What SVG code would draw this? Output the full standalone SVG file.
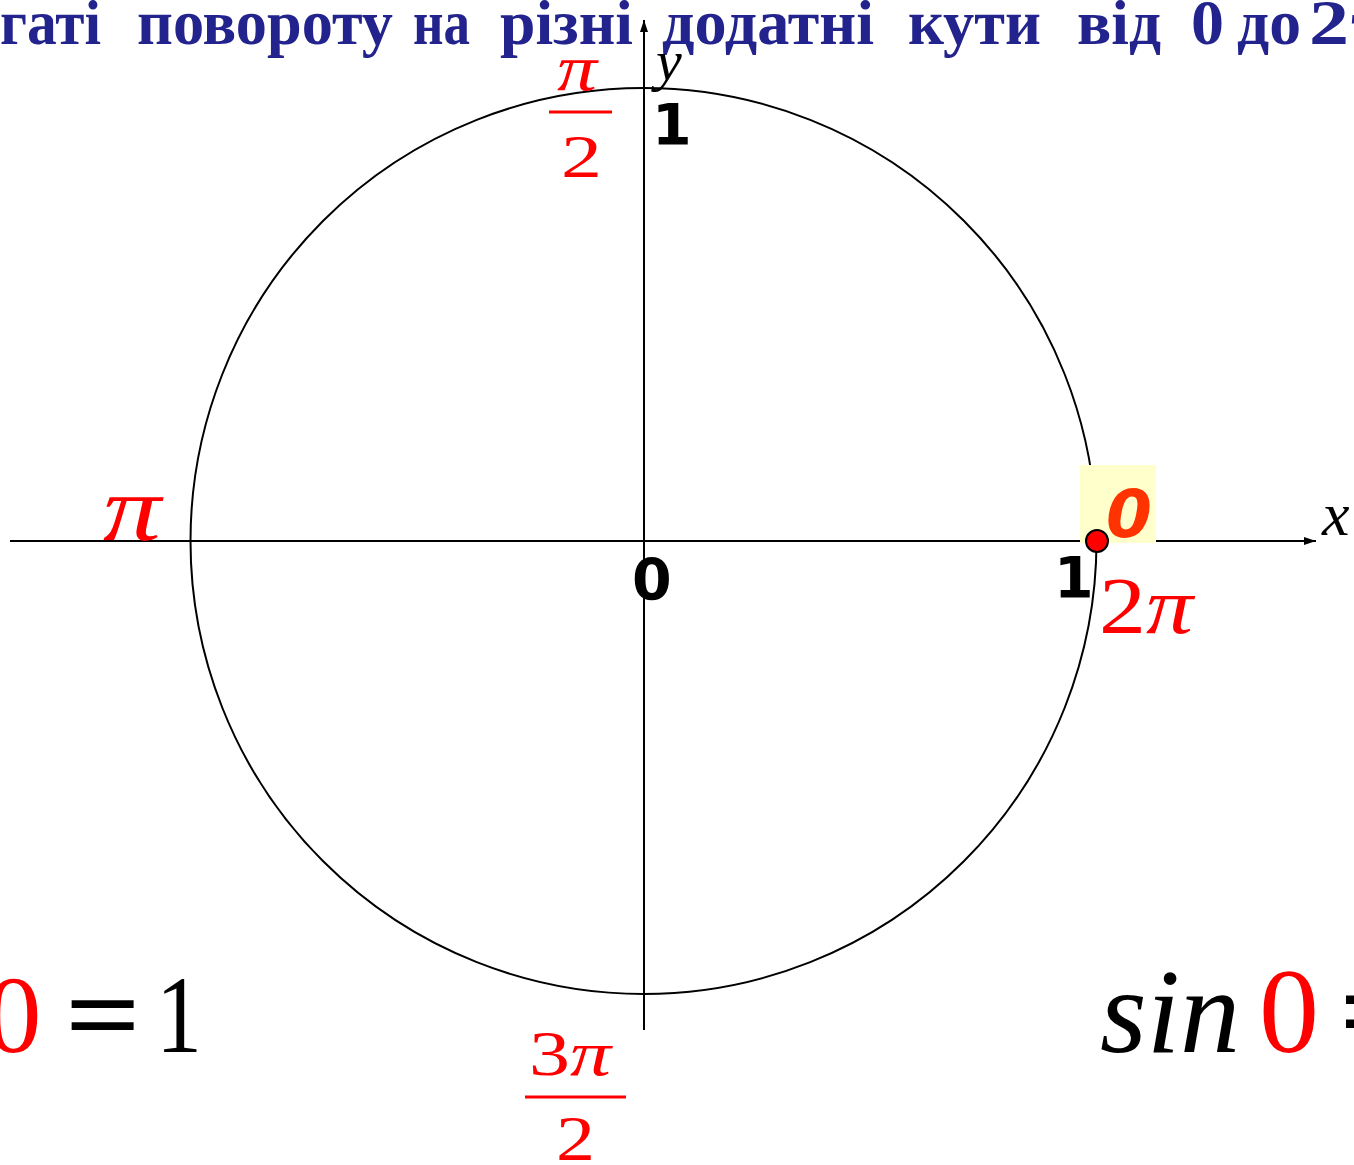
<svg xmlns="http://www.w3.org/2000/svg" width="1354" height="1165" viewBox="0 0 1354 1165">
<style>
.title{font-family:"Liberation Serif",serif;font-weight:bold;font-size:63px;fill:#23238E}
.red{fill:#FF0000}
.serif{font-family:"Liberation Serif",serif}
.ital{font-style:italic}
.bsans{font-family:"DejaVu Sans",sans-serif;font-weight:bold;fill:#000}
.axis{stroke:#000;stroke-width:2;fill:none}
.bar{stroke:#FF0000;stroke-width:3}
</style>
<defs>
<marker id="arr" viewBox="0 0 12 8" refX="12" refY="4" markerWidth="12" markerHeight="8" markerUnits="userSpaceOnUse" orient="auto">
<path d="M0,0 L12,4 L0,8 z" fill="#000"/>
</marker>
</defs>
<rect width="1354" height="1165" fill="#fff"/>
<g id="title">
<text class="title" x="0" y="44" textLength="101" lengthAdjust="spacingAndGlyphs">гаті</text>
<text class="title" x="137" y="44" textLength="256" lengthAdjust="spacingAndGlyphs">повороту</text>
<text class="title" x="413" y="44" textLength="57" lengthAdjust="spacingAndGlyphs">на</text>
<text class="title" x="500" y="44" textLength="133" lengthAdjust="spacingAndGlyphs">різні</text>
<text class="title" x="662" y="44" textLength="212" lengthAdjust="spacingAndGlyphs">додатні</text>
<text class="title" x="908" y="44" textLength="133" lengthAdjust="spacingAndGlyphs">кути</text>
<text class="title" x="1077" y="44" textLength="84" lengthAdjust="spacingAndGlyphs">від</text>
<text class="title" x="1191" y="44" textLength="33" lengthAdjust="spacingAndGlyphs">0</text>
<text class="title" x="1237" y="44" textLength="64" lengthAdjust="spacingAndGlyphs">до</text>
<text class="title" x="1309" y="44" textLength="40" lengthAdjust="spacingAndGlyphs">2</text>
<text class="title" x="1351" y="44">π</text>
</g>
<g id="connectors">
<line class="axis" x1="10" y1="541" x2="1316" y2="541" marker-end="url(#arr)"/>
<line class="axis" x1="644" y1="1030" x2="644" y2="20" marker-end="url(#arr)"/>
</g>
<g id="circle">
<circle cx="643.5" cy="541" r="453" fill="none" stroke="#000" stroke-width="2"/>
</g>
<g id="point0">
<rect x="1080" y="465" width="76" height="78" fill="#FFFFCC"/>
<circle cx="1097" cy="541" r="11" fill="#FF0000" stroke="#000" stroke-width="2"/>
<text x="1106" y="537" font-family="DejaVu Sans, sans-serif" font-weight="bold" font-style="italic" font-size="66" fill="#FF3300">0</text>
</g>
<g id="labels-black">
<text class="bsans" x="652" y="145" font-size="57">1</text>
<text class="bsans" x="632" y="600" font-size="57">0</text>
<text class="bsans" x="1054" y="598" font-size="57">1</text>
<text class="serif ital" x="656" y="80" font-size="58" fill="#000">y</text>
<text class="serif ital" x="1322" y="535" font-size="62" fill="#000">x</text>
</g>
<g id="label-pi-half">
<text class="serif ital red" x="557" y="90" font-size="66" textLength="40" lengthAdjust="spacingAndGlyphs">π</text>
<line class="bar" x1="549" y1="112" x2="612" y2="112"/>
<text class="serif red" x="561" y="177" font-size="62" textLength="41" lengthAdjust="spacingAndGlyphs">2</text>
</g>
<g id="label-pi">
<text class="serif ital red" x="103" y="540" font-size="94" textLength="58" lengthAdjust="spacingAndGlyphs">π</text>
</g>
<g id="label-2pi">
<text class="serif red" x="1099" y="633" font-size="80" textLength="94" lengthAdjust="spacingAndGlyphs">2<tspan font-style="italic">π</tspan></text>
</g>
<g id="label-3pi-half">
<text class="serif red" x="529" y="1075" font-size="63" textLength="82" lengthAdjust="spacingAndGlyphs">3<tspan font-style="italic">π</tspan></text>
<line class="bar" x1="525" y1="1097" x2="626" y2="1097"/>
<text class="serif red" x="556" y="1160" font-size="63" textLength="39" lengthAdjust="spacingAndGlyphs">2</text>
</g>
<g id="formula-left">
<text class="serif red" x="-14" y="1052" font-size="111">0</text>
<text class="serif" x="65" y="1052" font-size="111" font-weight="bold" fill="#000" textLength="76" lengthAdjust="spacingAndGlyphs">=</text>
<text class="serif" x="156" y="1052" font-size="111" fill="#000" textLength="46" lengthAdjust="spacingAndGlyphs">1</text>
</g>
<g id="formula-right">
<text class="serif ital" x="1100" y="1052" font-size="120" fill="#000">sin</text>
<text class="serif red" x="1259" y="1052" font-size="120">0</text>
<text class="serif" x="1340" y="1052" font-size="120" font-weight="bold" fill="#000">=</text>
</g>
</svg>
